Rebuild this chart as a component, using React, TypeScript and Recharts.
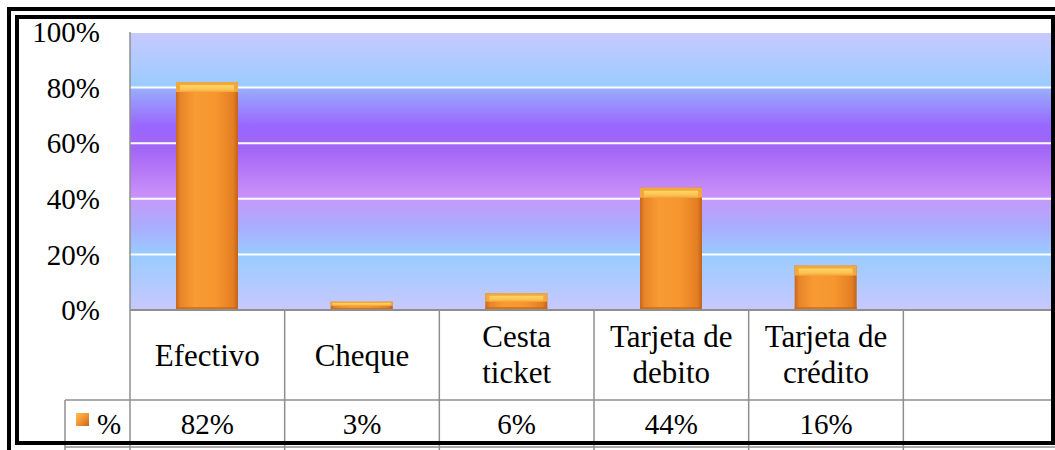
import React from "react";
import {
  BarChart,
  Bar,
  XAxis,
  YAxis,
  CartesianGrid,
} from "recharts";

// chart data
const categories = [
  "Efectivo",
  "Cheque",
  "Cesta ticket",
  "Tarjeta de debito",
  "Tarjeta de crédito",
  "",
];
const values: Array<number | null> = [82, 3, 6, 44, 16, null];
const valueLabels = ["82%", "3%", "6%", "44%", "16%", ""];
const categoryLines = [
  ["Efectivo"],
  ["Cheque"],
  ["Cesta", "ticket"],
  ["Tarjeta de", "debito"],
  ["Tarjeta de", "crédito"],
  [],
];
const yTicks = [0, 20, 40, 60, 80, 100];
const seriesName = "%";

const data = categories.map((name, i) => ({ name, value: values[i] }));

const CHART_W = 1060;
const CHART_H = 450;
const PLOT_LEFT = 130;
const PLOT_RIGHT = 1058;
const PLOT_TOP = 32;
const PLOT_BOTTOM = 310;
const BAND = (PLOT_RIGHT - PLOT_LEFT) / categories.length;
const FONT = "Liberation Serif, Times New Roman, DejaVu Serif, serif";
const GRID_GRAY = "#8f8f8f";

const txt = { fontFamily: FONT };

const BarShape = (props: any) => {
  const { x, y, width, height } = props;
  if (!height || height <= 0) return null;
  const cap = Math.min(10, height / 2);
  const inset = Math.min(4, cap / 2);
  return (
    <g>
      <rect x={x} y={y} width={width} height={height} fill="url(#barBody)" />
      <rect x={x} y={y} width={width} height={cap} fill="#f2a83c" />
      <polygon
        points={`${x + inset},${y + cap * 0.3} ${x + width - inset},${y + cap * 0.3} ${x + width - inset},${y + cap} ${x + inset},${y + cap}`}
        fill="url(#barCap)"
      />
      <rect
        x={x}
        y={y + height - Math.min(3, height / 4)}
        width={width}
        height={Math.min(3, height / 4)}
        fill="#c9661a"
        opacity={0.7}
      />
    </g>
  );
};

const TableTick = (props: any) => {
  const { x, index } = props;
  const left = x - BAND / 2;
  const right = x + BAND / 2;
  const rowSplit = 400;
  const bottom = 447;
  const lines = categoryLines[index] ?? [];
  return (
    <g>
      <line x1={left} y1={PLOT_BOTTOM} x2={left} y2={CHART_H} stroke={GRID_GRAY} strokeWidth={1.5} />
      {index === categories.length - 1 && (
        <line x1={right} y1={PLOT_BOTTOM} x2={right} y2={CHART_H} stroke={GRID_GRAY} strokeWidth={1.5} />
      )}
      <line x1={left} y1={rowSplit} x2={right} y2={rowSplit} stroke={GRID_GRAY} strokeWidth={1.5} />
      <line x1={left} y1={bottom} x2={right} y2={bottom} stroke={GRID_GRAY} strokeWidth={1.5} />

      {lines.length === 1 && (
        <text x={x} y={366} textAnchor="middle" style={txt} fontSize={31} fill="#000">
          {lines[0]}
        </text>
      )}
      {lines.length === 2 && (
        <g>
          <text x={x} y={347} textAnchor="middle" style={txt} fontSize={31} fill="#000">
            {lines[0]}
          </text>
          <text x={x} y={383} textAnchor="middle" style={txt} fontSize={31} fill="#000">
            {lines[1]}
          </text>
        </g>
      )}
      <text x={x} y={434} textAnchor="middle" style={txt} fontSize={29} fill="#000">
        {valueLabels[index]}
      </text>

      {index === 0 && (
        <g>
          <line x1={65} y1={rowSplit} x2={left} y2={rowSplit} stroke={GRID_GRAY} strokeWidth={1.5} />
          <line x1={65} y1={bottom} x2={left} y2={bottom} stroke={GRID_GRAY} strokeWidth={1.5} />
          <line x1={65} y1={rowSplit} x2={65} y2={CHART_H} stroke={GRID_GRAY} strokeWidth={1.5} />
          <rect x={76} y={413} width={13} height={13} fill="url(#legendSq)" />
          <text x={97} y={434} style={txt} fontSize={29} fill="#000">
            {seriesName}
          </text>
        </g>
      )}
    </g>
  );
};

export default function App() {
  return (
    <div
      style={{
        position: "absolute",
        left: 0,
        top: 0,
        width: 1055,
        height: 450,
        overflow: "hidden",
        background: "#fff",
        fontFamily: FONT,
      }}
    >
      <BarChart
        width={CHART_W}
        height={CHART_H}
        data={data}
        margin={{ top: PLOT_TOP, right: CHART_W - PLOT_RIGHT, left: 0, bottom: 0 }}
      >
        <defs>
          <linearGradient id="plotBg" x1="0" y1="0" x2="0" y2="1">
            <stop offset="0" stopColor="#c8c9ff" />
            <stop offset="0.2" stopColor="#99ccff" />
            <stop offset="0.201" stopColor="#99aefc" />
            <stop offset="0.34" stopColor="#9966ff" />
            <stop offset="0.42" stopColor="#a266f6" />
            <stop offset="0.59" stopColor="#cb90f8" />
            <stop offset="0.6" stopColor="#c59afa" />
            <stop offset="0.7" stopColor="#aaacff" />
            <stop offset="0.8" stopColor="#99ccff" />
            <stop offset="1" stopColor="#c8c8ff" />
          </linearGradient>
          <linearGradient id="barBody" x1="0" y1="0" x2="1" y2="0">
            <stop offset="0" stopColor="#c8661a" />
            <stop offset="0.07" stopColor="#e8842a" />
            <stop offset="0.3" stopColor="#f89b33" />
            <stop offset="0.65" stopColor="#f6962f" />
            <stop offset="0.92" stopColor="#e47f22" />
            <stop offset="1" stopColor="#c4631a" />
          </linearGradient>
          <linearGradient id="barCap" x1="0" y1="0" x2="0" y2="1">
            <stop offset="0" stopColor="#fdd666" />
            <stop offset="0.6" stopColor="#fbc453" />
            <stop offset="1" stopColor="#f7a43a" />
          </linearGradient>
          <linearGradient id="legendSq" x1="0" y1="0" x2="1" y2="1">
            <stop offset="0" stopColor="#fcc055" />
            <stop offset="0.5" stopColor="#f29530" />
            <stop offset="1" stopColor="#c9651a" />
          </linearGradient>
        </defs>
        <CartesianGrid
          vertical={false}
          stroke="#ffffff"
          strokeWidth={2}
          fill="url(#plotBg)"
          fillOpacity={1}
        />
        <YAxis
          width={PLOT_LEFT}
          domain={[0, 100]}
          ticks={yTicks}
          tickFormatter={(v: number) => `${v}%`}
          tickLine={false}
          tickSize={0}
          tickMargin={30}
          axisLine={{ stroke: GRID_GRAY, strokeWidth: 1.5 }}
          tick={{ fontFamily: FONT, fontSize: 29, fill: "#000", style: txt }}
        />
        <XAxis
          dataKey="name"
          height={CHART_H - PLOT_BOTTOM}
          interval={0}
          tickLine={false}
          tickSize={0}
          tickMargin={0}
          axisLine={{ stroke: GRID_GRAY, strokeWidth: 2 }}
          tick={<TableTick />}
        />
        <Bar
          dataKey="value"
          barSize={62}
          shape={<BarShape />}
          isAnimationActive={false}
        />
      </BarChart>

      {/* double frame */}
      <div
        style={{
          position: "absolute",
          left: 7,
          top: 7,
          width: 1200,
          height: 600,
          border: "4px solid #000",
          boxSizing: "border-box",
          pointerEvents: "none",
        }}
      />
      <div
        style={{
          position: "absolute",
          left: 15,
          top: 15,
          width: 1040,
          height: 430,
          border: "4px solid #000",
          boxSizing: "border-box",
          pointerEvents: "none",
        }}
      />
    </div>
  );
}
